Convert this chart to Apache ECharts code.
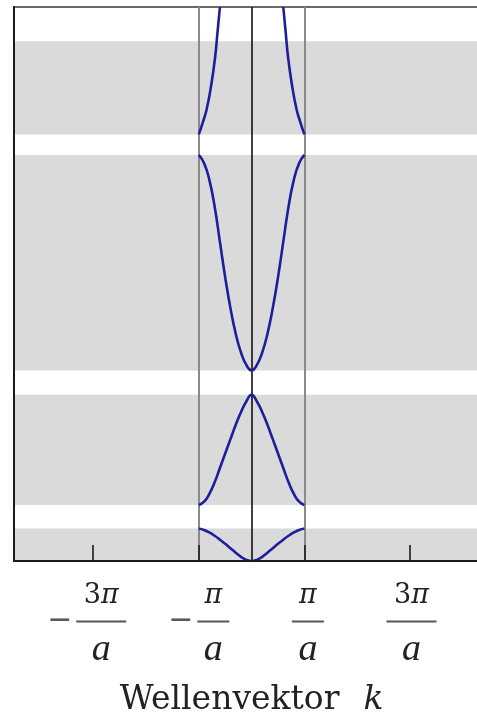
<!DOCTYPE html>
<html><head><meta charset="utf-8">
<script src="https://cdn.jsdelivr.net/npm/echarts@6/dist/echarts.min.js"></script>
<style>html,body{margin:0;padding:0;background:#fff}#c{width:477px;height:722px}</style>
</head><body><div id="c"></div>
<script>
// x in units of pi/a, energy in arbitrary units (0 bottom .. 100 top)
const kMin = -4.5, kMax = 4.5;
const eMin = 0, eMax = 100;
const tickValues = [-3, -1, 1, 3];
const tickSigns = ['−', '−', '', ''];
const tickNumerators = ['3π', 'π', 'π', '3π'];
const tickDenominator = 'a';
const zoneLines = [-1, 0, 1];
const axisTitle = 'Wellenvektor';
const axisVar = 'k';

// allowed energy bands [low, high]
const bandLow  = [0.0, 10.1, 34.4, 77.0];
const bandHigh = [5.87, 30.0, 73.3, 93.8];

// band 1
const b1k = [-1, -0.9, -0.8, -0.7, -0.6, -0.5, -0.4, -0.3, -0.2, -0.1, 0, 0.1, 0.2, 0.3, 0.4, 0.5, 0.6, 0.7, 0.8, 0.9, 1];
const b1E = [5.87, 5.6, 5.15, 4.55, 3.85, 3.1, 2.3, 1.5, 0.75, 0.2, 0, 0.2, 0.75, 1.5, 2.3, 3.1, 3.85, 4.55, 5.15, 5.6, 5.87];
// band 2
const b2k = [-1, -0.9, -0.8, -0.7, -0.6, -0.5, -0.4, -0.3, -0.2, -0.1, 0, 0.1, 0.2, 0.3, 0.4, 0.5, 0.6, 0.7, 0.8, 0.9, 1];
const b2E = [10.1, 10.7, 12.1, 14.2, 16.8, 19.4, 22.0, 24.6, 26.9, 28.8, 30.0, 28.8, 26.9, 24.6, 22.0, 19.4, 16.8, 14.2, 12.1, 10.7, 10.1];
// band 3
const b3k = [-1, -0.9, -0.8, -0.7, -0.6, -0.5, -0.4, -0.3, -0.2, -0.1, 0, 0.1, 0.2, 0.3, 0.4, 0.5, 0.6, 0.7, 0.8, 0.9, 1];
const b3E = [73.3, 71.8, 68.8, 64.0, 57.6, 51.2, 45.6, 41.0, 37.6, 35.4, 34.4, 35.4, 37.6, 41.0, 45.6, 51.2, 57.6, 64.0, 68.8, 71.8, 73.3];
// band 4 (left and right branches, leaving the plot at the top)
const b4Lk = [-1, -0.93, -0.85, -0.76, -0.69, -0.645, -0.6];
const b4LE = [77.0, 79.0, 81.6, 86.2, 91.0, 95.5, 100];
const b4Rk = [0.6, 0.645, 0.69, 0.76, 0.85, 0.93, 1];
const b4RE = [100, 95.5, 91.0, 86.2, 81.6, 79.0, 77.0];

function pairs(ks, es) { return ks.map((k, i) => [k, es[i]]); }

const curveColor = '#1e1e9c';
function curve(name, ks, es) {
  return {
    name: name, type: 'line', data: pairs(ks, es), smooth: 0.5,
    showSymbol: false, symbol: 'none', z: 5,
    lineStyle: { color: curveColor, width: 2.6 }, silent: true
  };
}

// label layout per tick: [lead width, trail width]
const labelLead = { '-3': 29, '-1': 29, '1': 7, '3': 3 };
const labelTrail = { '-3': 13, '-1': 0, '1': 0, '3': 0 };

function fmt(value) {
  const i = tickValues.indexOf(value);
  if (i < 0) return '';
  const key = String(value);
  const lead = labelLead[key], trail = labelTrail[key];
  const num = tickNumerators[i];
  const numStr = num.length > 1 ? '{n|' + num.slice(0, 1) + '}{pi|π}' : '{pi|π}';
  const barKey = num.length > 1 ? 'barW' : 'barN';
  const L = '{L' + lead + '| }';
  const T = trail ? '{T' + trail + '| }' : '';
  const mid = tickSigns[i] ? '{M|' + tickSigns[i] + '}' : L;
  return L + numStr + T + '\n' + mid + '{' + barKey + '| }' + T + '\n' + L + '{a|' + tickDenominator + '}' + T;
}

const sp = (w) => ({ width: w, fontSize: 8, lineHeight: 8 });

const option = {
  animation: false,
  backgroundColor: '#ffffff',
  grid: { left: 14, width: 475.2, top: 7, height: 554, outerBoundsMode: 'none', containLabel: false, show: true, borderColor: '#6a6a6a', borderWidth: 2, backgroundColor: 'transparent' },
  xAxis: {
    type: 'value', min: kMin, max: kMax, z: 10,
    splitLine: { show: false },
    axisLine: { show: true, onZero: false, lineStyle: { color: '#1a1a1a', width: 2 } },
    axisTick: { show: true, inside: true, length: 16, customValues: tickValues, lineStyle: { color: '#1a1a1a', width: 1.6 } },
    axisLabel: {
      show: true, customValues: tickValues, margin: 20, formatter: fmt, color: '#222',
      rich: {
        n: { fontFamily: 'DejaVu Serif', fontSize: 27, lineHeight: 30, color: '#222' },
        pi: { fontFamily: 'DejaVu Serif', fontStyle: 'italic', fontSize: 27, lineHeight: 30, color: '#222' },
        a: { fontFamily: 'Liberation Serif', fontStyle: 'italic', fontSize: 38, lineHeight: 36, color: '#222' },
        M: { width: 29, fontFamily: 'DejaVu Sans', fontSize: 30, lineHeight: 21, color: '#555', align: 'left' },
        barW: { width: 50, height: 2, lineHeight: 21, backgroundColor: '#555' },
        barN: { width: 32, height: 2, lineHeight: 21, backgroundColor: '#555' },
        L29: sp(29), L7: sp(7), L3: sp(3), T13: sp(13)
      }
    },
    name: '{w|' + axisTitle + '}{g| }{k|' + axisVar + '}',
    nameLocation: 'middle', nameGap: 121,
    nameTextStyle: {
      rich: {
        w: { fontFamily: 'DejaVu Serif', fontSize: 33, lineHeight: 36, color: '#222' },
        g: { width: 24, fontSize: 8 },
        k: { fontFamily: 'DejaVu Serif', fontStyle: 'italic', fontSize: 33, lineHeight: 36, color: '#222' }
      }
    }
  },
  yAxis: {
    type: 'value', min: eMin, max: eMax, z: 10,
    splitLine: { show: false },
    axisLine: { show: true, onZero: false, lineStyle: { color: '#1a1a1a', width: 2 } },
    axisTick: { show: false }, axisLabel: { show: false }
  },
  series: [
    {
      name: 'bands', type: 'line', data: [], z: 1, silent: true,
      markArea: {
        silent: true,
        itemStyle: { color: '#dadada' },
        data: bandLow.map((lo, i) => [{ yAxis: lo }, { yAxis: bandHigh[i] }])
      }
    },
    {
      name: 'zones', type: 'line', data: [], z: 2, silent: true,
      markLine: {
        silent: true, symbol: ['none', 'none'], label: { show: false },
        data: zoneLines.map(v => ({ xAxis: v, lineStyle: v === 0 ? { color: '#111', width: 1.6, type: 'solid' } : { color: '#8a8a8a', width: 2, type: 'solid' } }))
      }
    },
    curve('b1', b1k, b1E),
    curve('b2', b2k, b2E),
    curve('b3', b3k, b3E),
    curve('b4L', b4Lk, b4LE),
    curve('b4R', b4Rk, b4RE)
  ]
};

const chart = echarts.init(document.getElementById('c'), null, { renderer: 'canvas' });
chart.setOption(option);
</script>
</body></html>
